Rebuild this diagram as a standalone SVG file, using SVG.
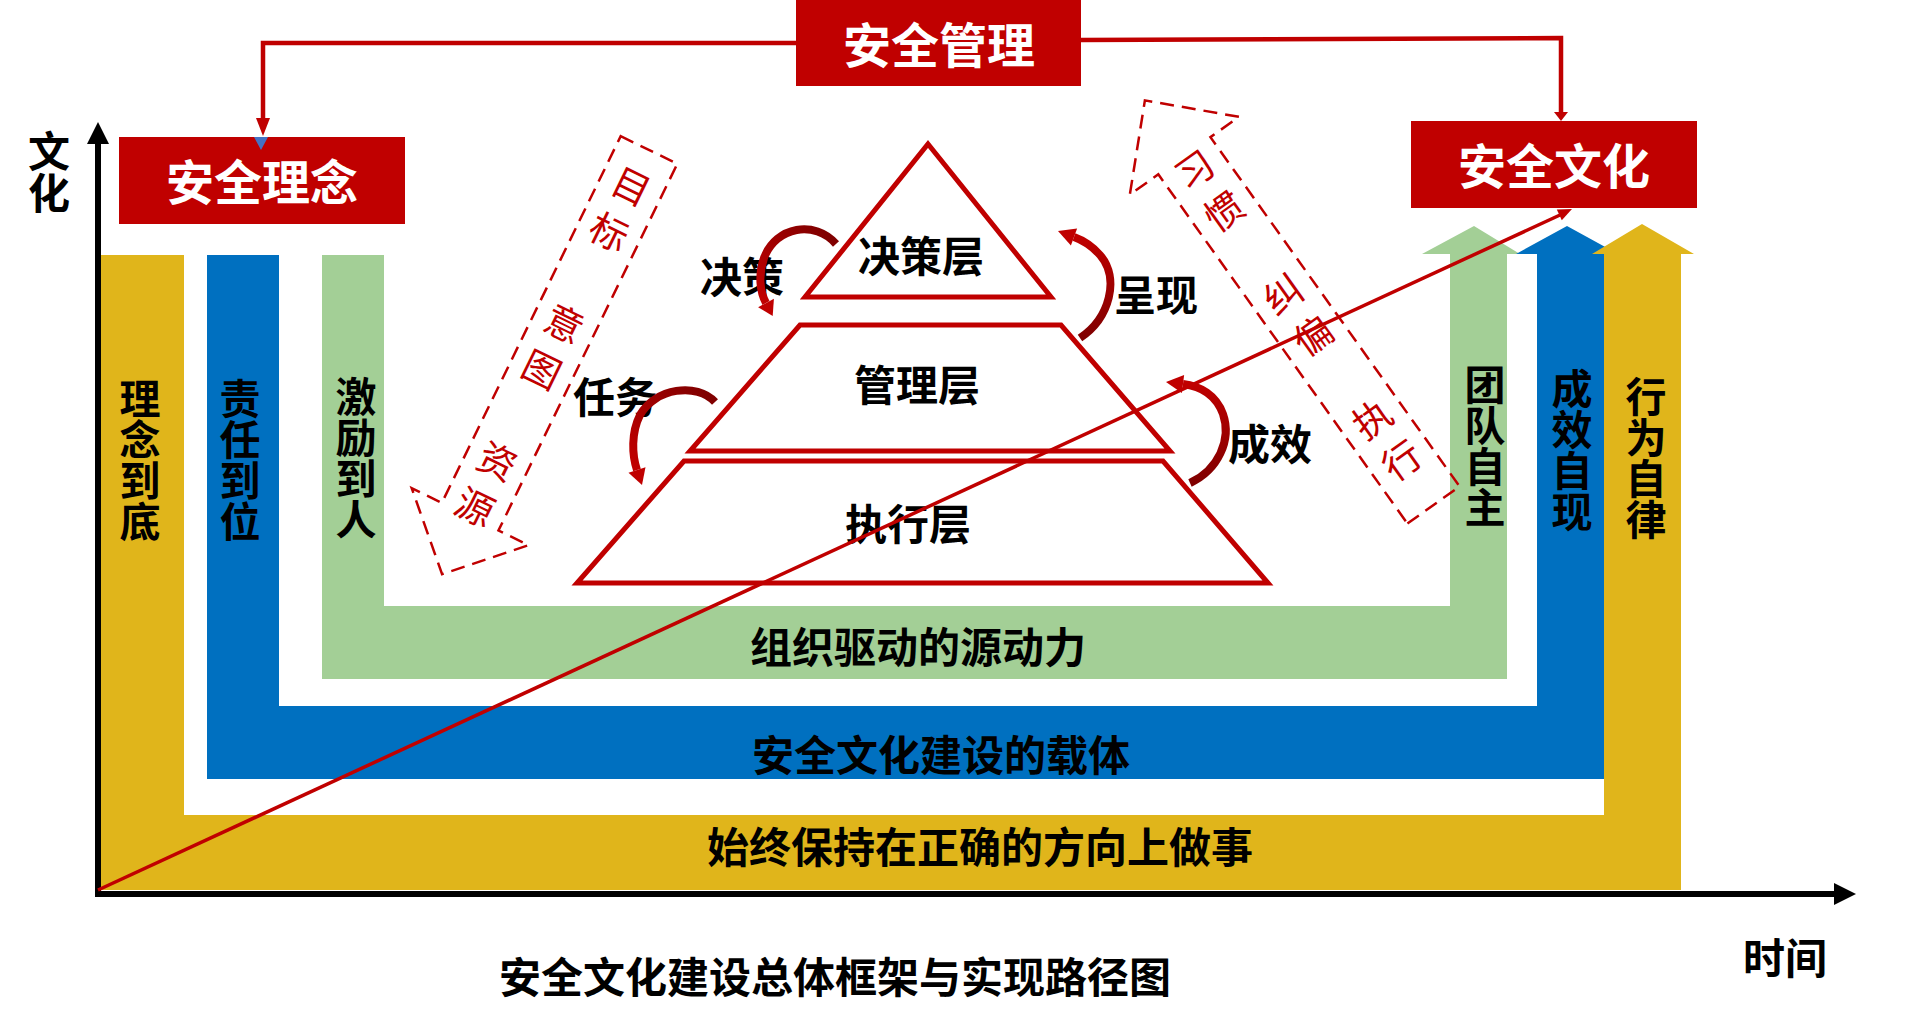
<svg xmlns="http://www.w3.org/2000/svg" width="1919" height="1027" viewBox="0 0 1919 1027">
<style>
.t{font-family:"Noto Sans CJK SC","Noto Sans CJK JP","DejaVu Sans",sans-serif;font-weight:700;fill:#000;text-anchor:middle;dominant-baseline:central}
.v{writing-mode:vertical-rl;text-orientation:upright}
.w{fill:#fff}
.d{font-family:"Noto Sans CJK SC","Noto Sans CJK JP",sans-serif;font-weight:400;fill:#C00000;text-anchor:middle;dominant-baseline:central;font-size:38px}
.box{fill:#C00000}
.pyr{fill:#fff;stroke:#C00000;stroke-width:5;stroke-linejoin:miter}
.dash{fill:none;stroke:#C00000;stroke-width:2.5;stroke-dasharray:14 8}
.conn{fill:none;stroke:#C00000;stroke-width:4.5}
.ax{stroke:#000;stroke-width:6}
.red{fill:#C00000}
.curve{fill:none;stroke-width:8}
</style>
<defs>
<linearGradient id="g1" gradientUnits="userSpaceOnUse" x1="836" y1="244" x2="766" y2="303"><stop offset="0" stop-color="#800000"/><stop offset="1" stop-color="#C00000"/></linearGradient>
<linearGradient id="g2" gradientUnits="userSpaceOnUse" x1="715" y1="402" x2="637" y2="470"><stop offset="0" stop-color="#800000"/><stop offset="1" stop-color="#C00000"/></linearGradient>
<linearGradient id="g3" gradientUnits="userSpaceOnUse" x1="1080" y1="338" x2="1074" y2="237"><stop offset="0" stop-color="#800000"/><stop offset="1" stop-color="#C00000"/></linearGradient>
<linearGradient id="g4" gradientUnits="userSpaceOnUse" x1="1190" y1="483" x2="1183" y2="384"><stop offset="0" stop-color="#800000"/><stop offset="1" stop-color="#C00000"/></linearGradient>
</defs>
<rect width="1919" height="1027" fill="#fff"/>

<g id="u-green">
<path fill="#A3CF96" d="M322,255 H384 V606 H1450 V254 H1422 L1474,226 L1520,254 H1507 V679 H322 Z"/>
<text class="t" font-size="42" x="918" y="644">组织驱动的源动力</text>
</g>
<g id="u-blue">
<path fill="#0070C0" d="M207,255 H279 V706 H1537 V254 H1516 L1567,226 L1618,254 H1604 V779 H207 Z"/>
<text class="t" font-size="42" x="941" y="752">安全文化建设的载体</text>
</g>
<g id="u-yellow">
<path fill="#E0B51B" d="M100,255 H184 V815 H1604 V254 H1592 L1642,224 L1694,254 H1681 V890 H100 Z"/>
<text class="t" font-size="42" x="980" y="844">始终保持在正确的方向上做事</text>
</g>

<g id="bar-labels">
<text class="t v" font-size="41" x="140" y="460">理念到底</text>
<text class="t v" font-size="41" x="240" y="460">责任到位</text>
<text class="t v" font-size="41" x="356" y="458">激励到人</text>
<text class="t v" font-size="41" x="1485" y="446">团队自主</text>
<text class="t v" font-size="41" x="1572" y="450">成效自现</text>
<text class="t v" font-size="41" x="1646" y="458">行为自律</text>
</g>

<g id="axes">
<line class="ax" x1="98" y1="897" x2="98" y2="140"/>
<polygon fill="#000" points="87,144 109,144 98,122"/>
<line class="ax" x1="95" y1="894" x2="1836" y2="894"/>
<polygon fill="#000" points="1834,883 1834,905 1856,894"/>
<text class="t v" font-size="42" x="49" y="172">文化</text>
<text class="t" font-size="42" x="1785" y="955">时间</text>
<text class="t" font-size="42" x="835" y="974">安全文化建设总体框架与实现路径图</text>
</g>

<g id="node-anquanguanli">
<rect class="box" x="796" y="0" width="285" height="86"/>
<text class="t w" font-size="48" x="939" y="42">安全管理</text>
</g>
<g id="node-anquanlinian">
<rect class="box" x="119" y="137" width="286" height="87"/>
<text class="t w" font-size="48" x="262" y="179">安全理念</text>
</g>
<g id="node-anquanwenhua">
<rect class="box" x="1411" y="121" width="286" height="87"/>
<text class="t w" font-size="48" x="1554" y="163">安全文化</text>
</g>

<g id="node-juecececeng">
<polygon class="pyr" points="928,144 1051,297 805,297"/>
<text class="t" font-size="42" x="921" y="253">决策层</text>
</g>
<g id="node-guanliceng">
<polygon class="pyr" points="800,325 1061,325 1170,451 690,451"/>
<text class="t" font-size="42" x="917" y="382">管理层</text>
</g>
<g id="node-zhixingceng">
<polygon class="pyr" points="684,461 1163,461 1268,583 577,583"/>
<text class="t" font-size="42" x="908" y="521">执行层</text>
</g>

<g id="dash-down">
<g transform="translate(649,150) rotate(26)">
<path class="dash" d="M-31.5,0 H31.5 V408 H65 L0,472 L-65,408 H-31.5 Z"/>
<text class="d" x="0" y="38">目</text>
<text class="d" x="0" y="89">标</text>
<text class="d" x="0" y="191">意</text>
<text class="d" x="0" y="242">图</text>
<text class="d" x="0" y="344">资</text>
<text class="d" x="0" y="395">源</text>
</g>
</g>
<g id="dash-up">
<g transform="translate(1433.5,505) rotate(-35.5)">
<path class="dash" d="M-32,0 H32 V-429 H67 L0,-497 L-67,-429 H-32 Z"/>
<text class="d" x="0" y="-414">习</text>
<text class="d" x="0" y="-363">惯</text>
<text class="d" x="0" y="-261">纠</text>
<text class="d" x="0" y="-210">偏</text>
<text class="d" x="0" y="-108">执</text>
<text class="d" x="0" y="-57">行</text>
</g>
</g>

<g id="labels-side">
<text class="t" font-size="42" x="742" y="274">决策</text>
<text class="t" font-size="42" x="615" y="394">任务</text>
<text class="t" font-size="42" x="1156" y="292">呈现</text>
<text class="t" font-size="42" x="1270" y="441">成效</text>
</g>

<g id="curved-arrows">
<path class="curve" stroke="url(#g1)" d="M836,244 C815,220 776,226 764,258 C758,275 760,292 766,303"/>
<polygon class="red" points="773.9,298.7 772.7,316 758.1,307.3"/>
<path class="curve" stroke="url(#g2)" d="M715,402 C697,382 655,388 640,415 C631,433 632,455 637,470"/>
<polygon class="red" points="645.5,467.2 642,485 628.5,472.8"/>
<path class="curve" stroke="url(#g3)" d="M1080,338 C1110,318 1120,278 1100,255 C1093,247 1085,241 1074,237"/>
<polygon class="red" points="1077.1,228.5 1058,231 1070.9,245.5"/>
<path class="curve" stroke="url(#g4)" d="M1190,483 C1218,470 1232,440 1223,414 C1216,395 1200,386 1183,384"/>
<polygon class="red" points="1184.1,375.1 1166,382 1181.9,392.9"/>
</g>

<g id="connectors">
<polyline class="conn" points="796,43 263,43 263,120"/>
<polygon class="red" points="256,118 270,118 263,136"/>
<polygon fill="#4472C4" points="254,137 268,137 261,150"/>
<polyline class="conn" points="1081,40 1561,38 1561,114"/>
<polygon class="red" points="1554,112 1568,112 1561,121"/>
<line stroke="#C00000" stroke-width="3.5" x1="98" y1="890" x2="1560" y2="215"/>
<polygon class="red" points="1561.8,220.3 1572,209 1556.8,209.5"/>
</g>
</svg>
